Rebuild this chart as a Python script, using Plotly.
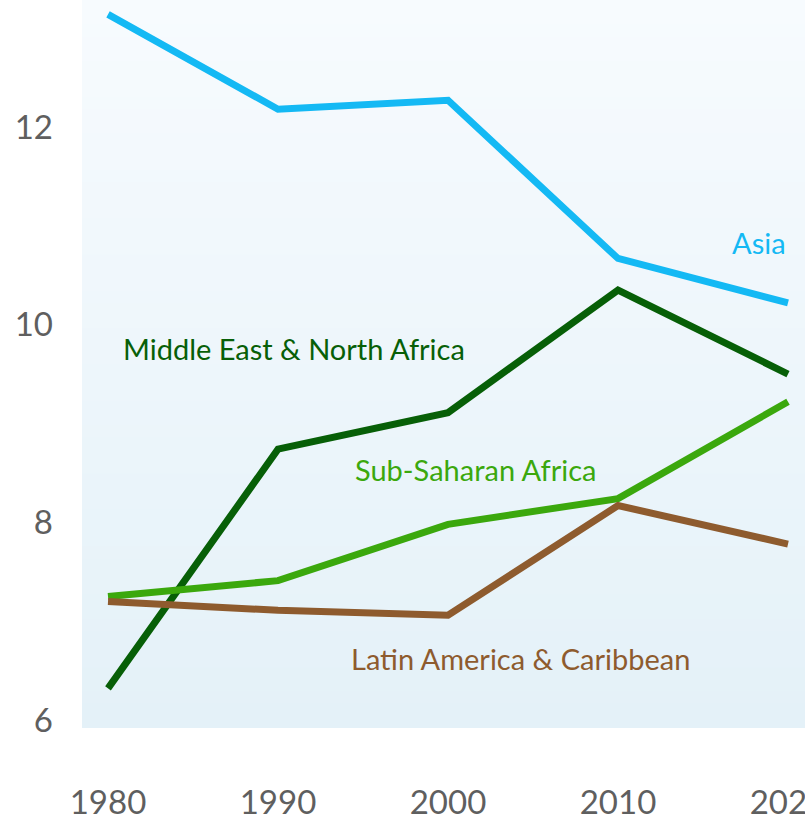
import plotly.graph_objects as go

years = [1980, 1990, 2000, 2010, 2020]
asia = [13.14, 12.18, 12.27, 10.67, 10.22]
mena = [6.32, 8.74, 9.11, 10.35, 9.50]
ssa = [7.25, 7.41, 7.98, 8.24, 9.22]
lac = [7.20, 7.11, 7.06, 8.17, 7.78]

series = [
    ("Asia", asia, "#14b9f4"),
    ("Middle East & North Africa", mena, "#075f07"),
    ("Sub-Saharan Africa", ssa, "#3ba80d"),
    ("Latin America & Caribbean", lac, "#8e5b2e"),
]

label_pos = {
    "Asia": (2020.0, 10.83, "right"),
    "Middle East & North Africa": (1980.75, 9.76, "left"),
    "Sub-Saharan Africa": (1994.42, 8.53, "left"),
    "Latin America & Caribbean": (1994.2, 6.62, "left"),
}

fig = go.Figure()
for name, vals, color in series:
    fig.add_trace(go.Scatter(x=years, y=vals, mode="lines", name=name,
                             line=dict(color=color, width=7), showlegend=False,
                             hoverinfo="skip"))
    lx, ly, anchor = label_pos[name]
    fig.add_annotation(x=lx, y=ly, text=name, showarrow=False, xanchor=anchor,
                       yanchor="middle", font=dict(color=color, size=29, family="Lato"))

# vertical gradient background
top = (247, 251, 254)
bot = (228, 241, 248)
n = 60
shapes = []
for i in range(n):
    t = i / (n - 1)
    c = tuple(round(bot[k] + (top[k] - bot[k]) * t) for k in range(3))
    shapes.append(dict(type="rect", xref="paper", yref="paper", x0=0, x1=1,
                       y0=i / n, y1=(i + 1) / n + 0.002, line=dict(width=0),
                       fillcolor="rgb(%d,%d,%d)" % c, layer="below"))

fig.update_layout(
    width=805, height=820,
    margin=dict(l=82, r=0, t=0, b=92, autoexpand=False),
    paper_bgcolor="white", plot_bgcolor="rgba(0,0,0,0)",
    shapes=shapes,
    font=dict(family="Lato", color="#5f5f5f"),
    xaxis=dict(range=[1978.47, 2021.0], tickvals=years, showgrid=False,
               zeroline=False, showline=False, ticks="", ticklabelstandoff=52,
               automargin=False, ticklabeloverflow="allow",
               tickfont=dict(size=33, color="#5f5f5f")),
    yaxis=dict(range=[5.919, 13.285], tickvals=[6, 8, 10, 12], showgrid=False,
               zeroline=False, showline=False, ticks="", ticklabelstandoff=28,
               automargin=False, ticklabeloverflow="allow",
               tickfont=dict(size=33, color="#5f5f5f")),
)

fig.write_html("out.html", config={"displayModeBar": False},
               post_script="document.body.style.margin='0px';document.body.style.overflow='hidden';")
